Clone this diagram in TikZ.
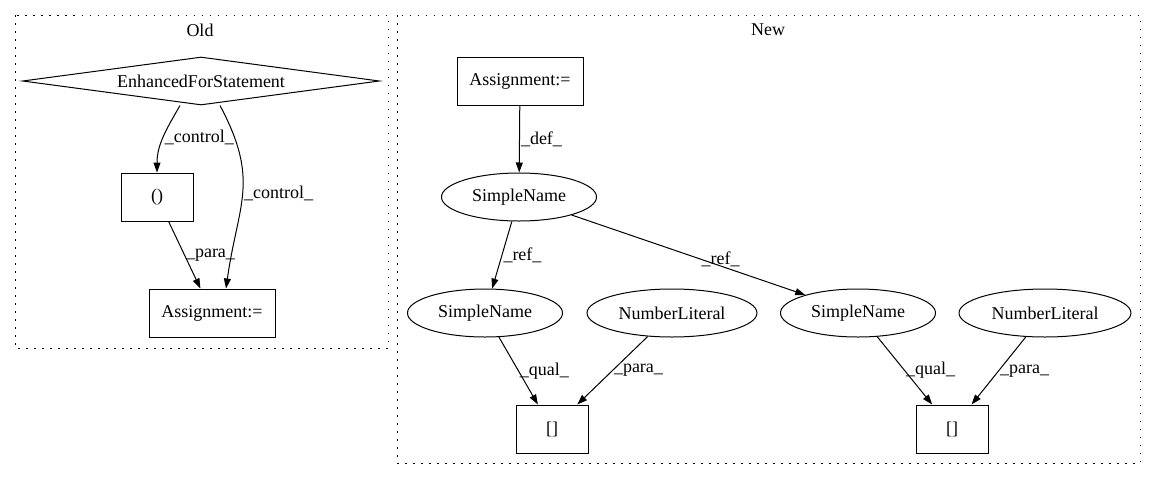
\documentclass[tikz,border=0pt]{standalone}
\usepackage{fontspec}
\setmainfont{Liberation Serif}
\usetikzlibrary{shapes.geometric,arrows.meta}

\begin{document}
\begin{tikzpicture}[x=1pt,y=1pt,
    every node/.append style={font=\fontsize{18pt}{21pt}\selectfont},
    cluster/.style={draw,dash pattern=on 1.5pt off 6.5pt,line width=1pt},
    lbl/.style={right,inner sep=1pt,font=\fontsize{18pt}{21pt}\selectfont}]

        \useasboundingbox (0,0) rectangle (1157,-480);

        % the two clusters
        \draw[cluster] (15,-15) rectangle (388,-348);
        \draw[cluster] (397,-15) rectangle (1140,-463);
        \node (oldtitle) at (200,-30) {Old};
        \node (newtitle) at (768,-30) {New};

        \begin{scope}[every node/.style={draw,line width=1pt,minimum height=48pt,inner sep=0pt,font=\fontsize{18pt}{21pt}\selectfont}]
          \node[diamond,aspect=7.4,minimum width=357pt] (efs) at (201,-81) {EnhancedForStatement};
          \node[minimum width=72pt]  (paren)  at (157,-197) {()};
          \node[minimum width=126pt] (asgold) at (212,-313) {Assignment:=};

          \node[minimum width=126pt] (asgnew) at (520,-81)  {Assignment:=};
          \node[ellipse,minimum width=155pt] (sn)  at (519,-197) {SimpleName};
          \node[ellipse,minimum width=155pt] (snl) at (485,-313) {SimpleName};
          \node[ellipse,minimum width=170pt] (nll) at (672,-313) {NumberLiteral};
          \node[ellipse,minimum width=155pt] (snr) at (858,-313) {SimpleName};
          \node[ellipse,minimum width=172pt] (nlr) at (1045,-313) {NumberLiteral};
          \node[minimum width=72pt]  (brl) at (552,-429) {[]};
          \node[minimum width=72pt]  (brr) at (952,-429) {[]};
        \end{scope}

        \begin{scope}[every node/.style={lbl}]

          \begin{scope}[every edge/.style={draw,line width=1pt,-{Triangle[length=10pt,width=7pt]}}]
            \path ([xshift=-21pt]efs.south) edge[out=-120,in=90] node {\_control\_} (paren);
            \path ([xshift=19pt]efs.south)  edge[out=-62,in=82,looseness=1.2] node {\_control\_} ([xshift=14pt]asgold.north);
            \path (paren) edge node {\_para\_} (asgold);
            \path (asgnew) edge node {\_def\_} (sn);
            \path (sn)  edge node {\_ref\_} (snl);
            \path (sn)  edge node[pos=0.55] {\_ref\_} (snr);
            \path (snl) edge node {\_qual\_} (brl);
            \path (nll) edge node {\_para\_} (brl);
            \path (snr) edge node {\_qual\_} (brr);
            \path (nlr) edge node {\_para\_} (brr);
          \end{scope}
        \end{scope}

      \end{tikzpicture}
\end{document}
